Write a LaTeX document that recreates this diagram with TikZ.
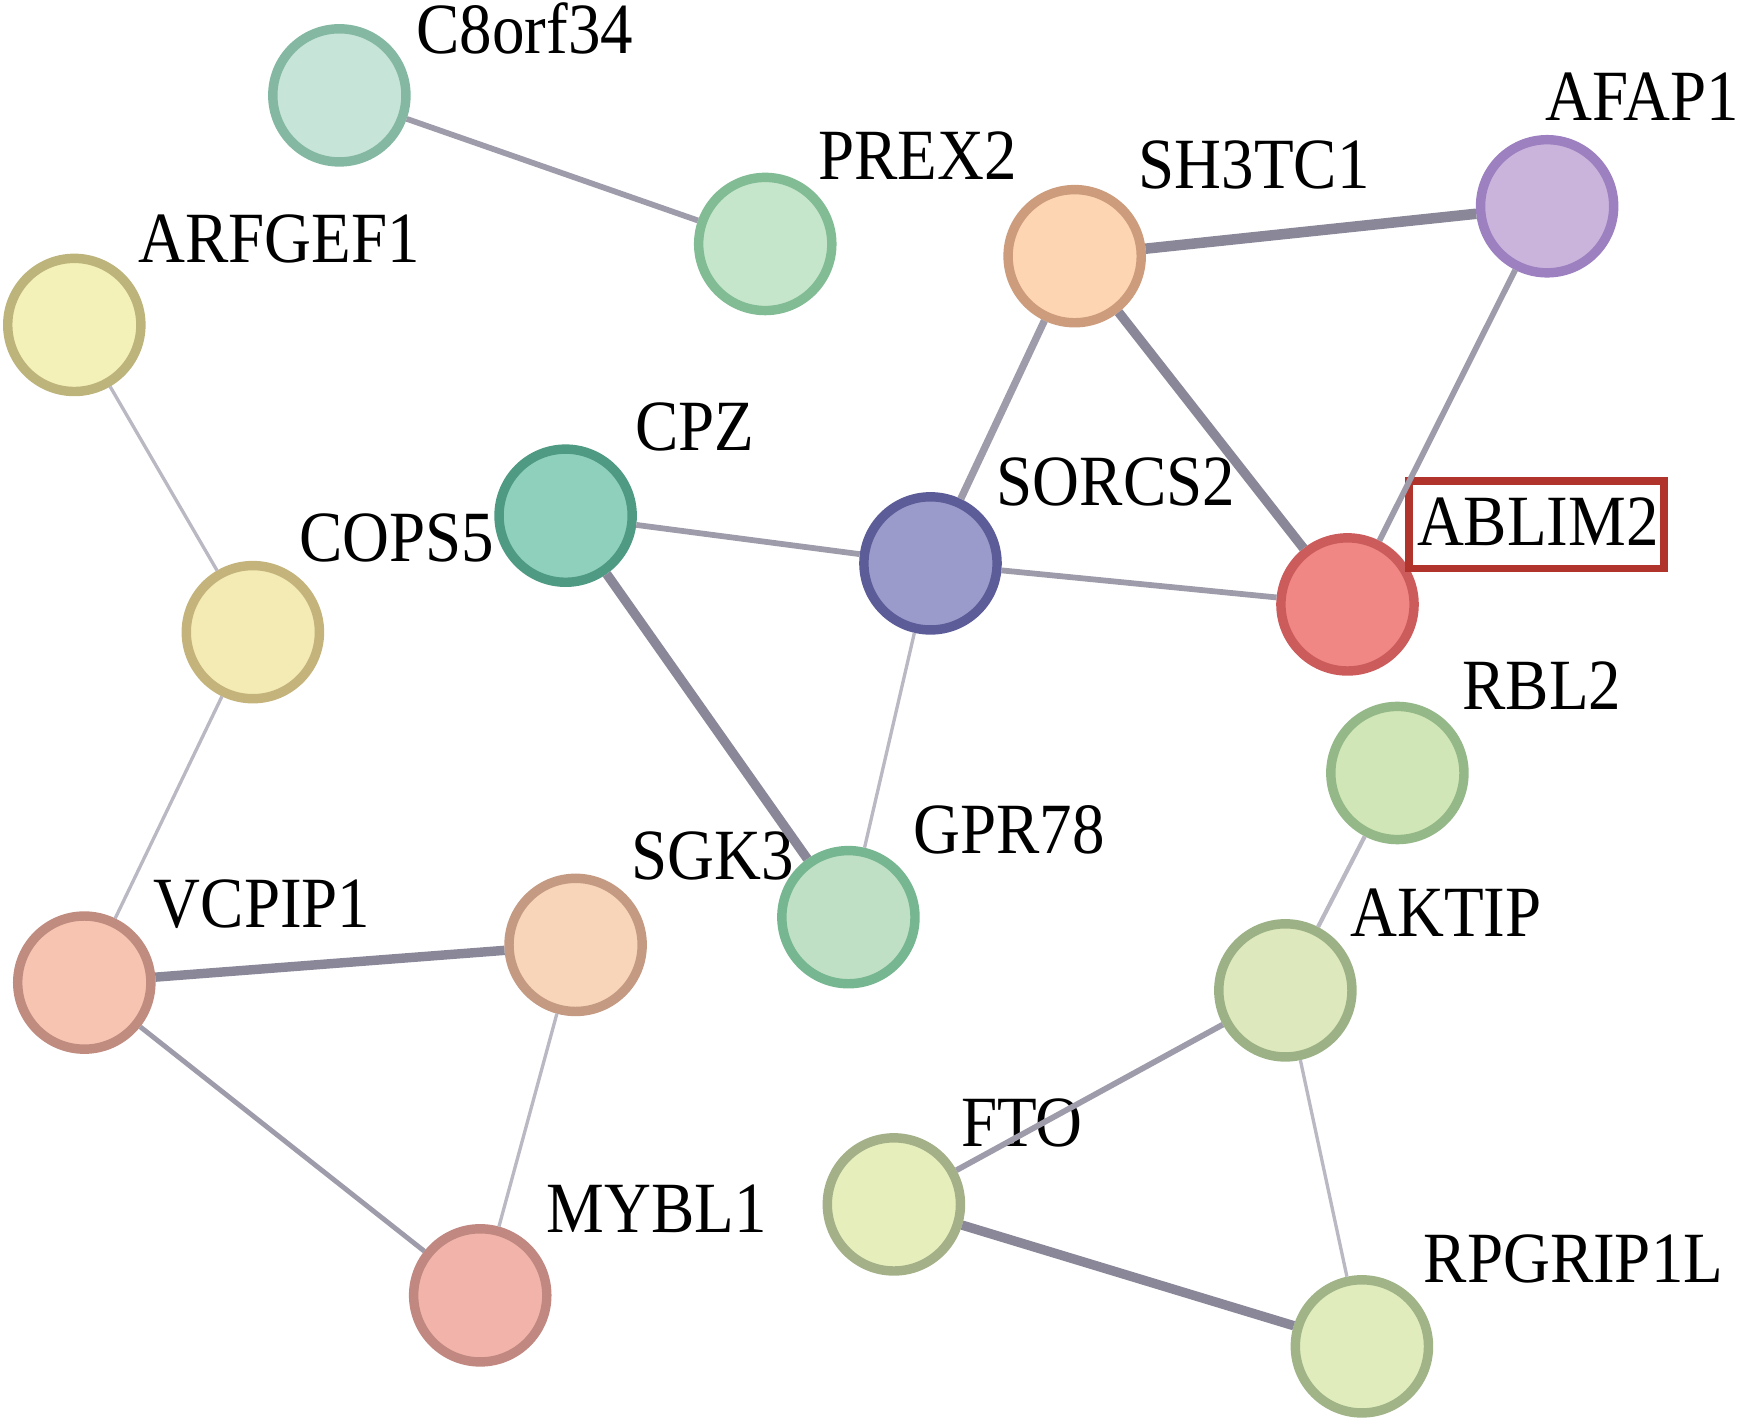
\documentclass[tikz,border=0pt]{standalone}
\usepackage{fontspec}
\setmainfont{Liberation Serif}[FakeStretch=0.9]
\usepackage{tikz}
\definecolor{eThick}{HTML}{8A8898}
\definecolor{eMed}{HTML}{9E9CAA}
\definecolor{eThin}{HTML}{BAB8C2}
\definecolor{hiRed}{HTML}{B0342C}
\definecolor{fC8orf}{HTML}{C6E4D8}\definecolor{dC8orf}{HTML}{84B8A2}
\definecolor{fPrex}{HTML}{C6E6CC}\definecolor{dPrex}{HTML}{82BC94}
\definecolor{fArfgef}{HTML}{F3F0B8}\definecolor{dArfgef}{HTML}{BDB47C}
\definecolor{fCops}{HTML}{F3EAB4}\definecolor{dCops}{HTML}{C4B47C}
\definecolor{fCpz}{HTML}{8FD0BC}\definecolor{dCpz}{HTML}{4F9A82}
\definecolor{fSh}{HTML}{FDD5B2}\definecolor{dSh}{HTML}{CC9C7C}
\definecolor{fAfap}{HTML}{CAB4DC}\definecolor{dAfap}{HTML}{9C80C0}
\definecolor{fSorcs}{HTML}{9A9ACB}\definecolor{dSorcs}{HTML}{5C5C98}
\definecolor{fAblim}{HTML}{F08784}\definecolor{dAblim}{HTML}{CC5C5C}
\definecolor{fRbl}{HTML}{D0E6B6}\definecolor{dRbl}{HTML}{94B888}
\definecolor{fGpr}{HTML}{BFE0C4}\definecolor{dGpr}{HTML}{76B690}
\definecolor{fSgk}{HTML}{F8D4B8}\definecolor{dSgk}{HTML}{C49A82}
\definecolor{fVcpip}{HTML}{F6C4B0}\definecolor{dVcpip}{HTML}{C08C80}
\definecolor{fMybl}{HTML}{F2B4AA}\definecolor{dMybl}{HTML}{C08880}
\definecolor{fAktip}{HTML}{DDE8BC}\definecolor{dAktip}{HTML}{9CB286}
\definecolor{fFto}{HTML}{E6EEBC}\definecolor{dFto}{HTML}{A4B088}
\definecolor{fRpg}{HTML}{E0ECBC}\definecolor{dRpg}{HTML}{A0B488}

\begin{document}
\begin{tikzpicture}[x=0.01cm, y=-0.01cm,
	prot/.style={circle, fill=f#1, draw=d#1, line width=0.085cm, minimum size=1.2cm, inner sep=0pt},
	lbl/.style={anchor=base west, inner sep=0pt, font=\fontsize{18.5}{22}\selectfont},
	wthin/.style={line width=0.03cm, color=eThin},
	wmed/.style={line width=0.052cm, color=eMed},
	wthick/.style={line width=0.085cm, color=eThick}]
			%%%%% START %%%%%
			
			\useasboundingbox (0, 0) rectangle (1568, 1280);
			
			\node[prot=C8orf] (c8orf) at (306, 86) {};
			\node[prot=Prex] (prex) at (690, 220) {};
			\node[prot=Arfgef] (arfgef) at (67, 293) {};
			\node[prot=Cops] (cops) at (228, 570) {};
			\node[prot=Cpz] (cpz) at (510, 465) {};
			\node[prot=Sh] (sh3) at (969, 231) {};
			\node[prot=Afap] (afap) at (1395, 186) {};
			\node[prot=Sorcs] (sorcs) at (839, 508) {};
			\node[prot=Ablim] (ablim) at (1215, 545) {};
			\node[prot=Rbl] (rbl) at (1260, 697) {};
			\node[prot=Gpr] (gpr) at (765, 827) {};
			\node[prot=Sgk] (sgk) at (519, 852) {};
			\node[prot=Vcpip] (vcpip) at (76, 886) {};
			\node[prot=Mybl] (mybl) at (433, 1168) {};
			\node[prot=Aktip] (aktip) at (1159, 893) {};
			\node[prot=Fto] (fto) at (806, 1086) {};
			\node[prot=Rpg] (rpg) at (1228, 1214) {};
			
			\node[lbl] (c8orfL) at (375, 48) {C8orf34};
			\node[lbl] (prexL) at (737, 162) {PREX2};
			\node[lbl] (arfgefL) at (124, 237) {ARFGEF1};
			\node[lbl] (copsL) at (269, 506) {COPS5};
			\node[lbl] (cpzL) at (572, 406) {CPZ};
			\node[lbl] (sh3L) at (1026, 170) {SH3TC1};
			\node[lbl] (afapL) at (1393, 109) {AFAP1};
			\node[lbl] (sorcsL) at (898, 456) {SORCS2};
			\node[lbl] (ablimL) at (1277, 492) {ABLIM2};
			\node[lbl] (rblL) at (1318, 640) {RBL2};
			\node[lbl] (gprL) at (823, 770) {GPR78};
			\node[lbl] (sgkL) at (569, 793) {SGK3};
			\node[lbl] (vcpipL) at (138, 836) {VCPIP1};
			\node[lbl] (mybl1L) at (492, 1111) {MYBL1};
			\node[lbl] (aktipL) at (1217, 844) {AKTIP};
			\node[lbl] (ftoL) at (866, 1034) {FTO};
			\node[lbl] (rpgL) at (1283, 1156) {RPGRIP1L};
			
			\node[draw=hiRed, line width=0.07cm, minimum width=2.3cm, minimum height=0.79cm, inner sep=0pt] (hibox) at (1385.5, 473) {};
			
			\draw[wmed] (c8orf) -- (prex);
			\draw[wthin] (arfgef) -- (cops);
			\draw[wthin] (cops) -- (vcpip);
			\draw[wmed] (cpz) -- (sorcs);
			\draw[wthick] (cpz) -- (gpr);
			\draw[wthin] (sorcs) -- (gpr);
			\draw[wmed, line width=0.066cm] (sorcs) -- (sh3);
			\draw[wmed] (sorcs) -- (ablim);
			\draw[wthick] (sh3) -- (ablim);
			\draw[wthick, line width=0.095cm] (sh3) -- (afap);
			\draw[wmed] (afap) -- (ablim);
			\draw[wthick] (vcpip) -- (sgk);
			\draw[wmed, line width=0.044cm] (vcpip) -- (mybl);
			\draw[wthin] (sgk) -- (mybl);
			\draw[wthin, line width=0.038cm] (rbl) -- (aktip);
			\draw[wmed] (aktip) -- (fto);
			\draw[wthin] (aktip) -- (rpg);
			\draw[wthick] (fto) -- (rpg);
			
			%%%%% END %%%%%
\end{tikzpicture}
\end{document}
